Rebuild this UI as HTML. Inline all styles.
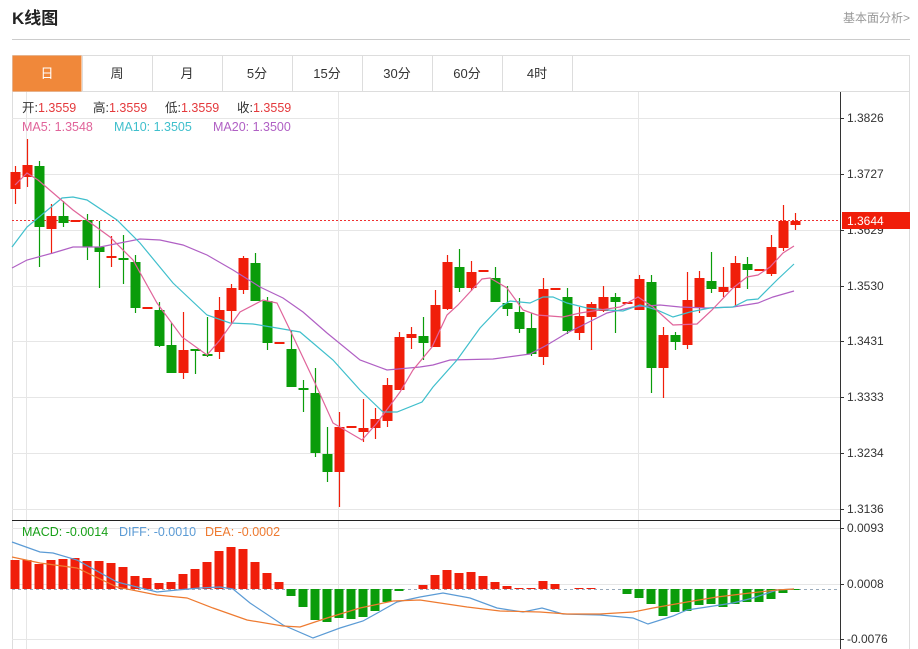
<!DOCTYPE html>
<html><head><meta charset="utf-8"><style>
body{margin:0;background:#fff;width:918px;height:649px;overflow:hidden;font-family:"Liberation Sans","Noto Sans CJK SC",sans-serif;}
svg{position:absolute;left:0;top:0}
</style></head><body>
<svg id="s" width="918" height="649" xmlns="http://www.w3.org/2000/svg" font-family="Liberation Sans, Noto Sans CJK SC, sans-serif">
<text x="12" y="24" font-size="17" font-weight="bold" fill="#222">K线图</text>
<text x="910" y="22" font-size="12" fill="#999" text-anchor="end">基本面分析&gt;</text>
<line x1="12" y1="39.5" x2="910" y2="39.5" stroke="#ccc"/>
<rect x="12.5" y="55.5" width="897" height="600" fill="none" stroke="#ddd"/>
<line x1="12" y1="91.5" x2="910" y2="91.5" stroke="#ddd"/>
<rect x="12.5" y="55.5" width="69" height="36" fill="#f0883a"/>
<g font-size="13" fill="#333" text-anchor="middle">
<text x="47" y="78" fill="#fff">日</text>
<text x="117" y="78">周</text><text x="187" y="78">月</text><text x="257" y="78">5分</text><text x="327" y="78">15分</text><text x="397" y="78">30分</text><text x="467" y="78">60分</text><text x="537" y="78">4时</text>
</g>
<g stroke="#ddd"><line x1="82.5" y1="55" x2="82.5" y2="91"/><line x1="152.5" y1="55" x2="152.5" y2="91"/><line x1="222.5" y1="55" x2="222.5" y2="91"/><line x1="292.5" y1="55" x2="292.5" y2="91"/><line x1="362.5" y1="55" x2="362.5" y2="91"/><line x1="432.5" y1="55" x2="432.5" y2="91"/><line x1="502.5" y1="55" x2="502.5" y2="91"/><line x1="572.5" y1="55" x2="572.5" y2="91"/></g>
<g id="grid" stroke="#e6e6e6"></g>
<g id="chart"></g>
<line x1="840.5" y1="92" x2="840.5" y2="649" stroke="#333"/>
<line x1="12" y1="520.5" x2="840" y2="520.5" stroke="#222"/>
<g id="axis" font-size="12" fill="#333"></g>
<rect x="842" y="212" width="68" height="17" fill="#f01e0a"/>
<text x="847" y="225" font-size="12" fill="#fff">1.3644</text>
<g font-size="12.5">
<text x="22" y="112" fill="#333">开:<tspan fill="#e4393c">1.3559</tspan></text>
<text x="93" y="112" fill="#333">高:<tspan fill="#e4393c">1.3559</tspan></text>
<text x="165" y="112" fill="#333">低:<tspan fill="#e4393c">1.3559</tspan></text>
<text x="237" y="112" fill="#333">收:<tspan fill="#e4393c">1.3559</tspan></text>
<text x="22" y="131" fill="#e0649a">MA5: 1.3548</text>
<text x="114" y="131" fill="#3fbfcc">MA10: 1.3505</text>
<text x="213" y="131" fill="#b060c4">MA20: 1.3500</text>
<text x="22" y="536" fill="#18a018">MACD: -0.0014</text>
<text x="119" y="536" fill="#5b9bd5">DIFF: -0.0010</text>
<text x="205" y="536" fill="#ee7a30">DEA: -0.0002</text>
</g>
</svg>
<script>
var NS="http://www.w3.org/2000/svg",S=function(id){return document.getElementById(id)};
function el(p,t,a){var e=document.createElementNS(NS,t);for(var k in a)e.setAttribute(k,a[k]);p.appendChild(e);return e;}
var g=S('grid'),ax=S('axis'),c=S('chart');
var levels=[[118,"1.3826"],[174,"1.3727"],[230,"1.3629"],[286,"1.3530"],[341,"1.3431"],[397,"1.3333"],[453,"1.3234"],[509,"1.3136"]];
levels.forEach(function(l){el(g,'line',{x1:12,y1:l[0]+.5,x2:840,y2:l[0]+.5});el(ax,'line',{x1:840,y1:l[0]+.5,x2:844,y2:l[0]+.5,stroke:'#333'});var t=el(ax,'text',{x:847,y:l[0]+4});t.textContent=l[1];});
[[528,"0.0093"],[584,"0.0008"],[639,"-0.0076"]].forEach(function(l){el(g,'line',{x1:12,y1:l[0]+.5,x2:840,y2:l[0]+.5});el(ax,'line',{x1:840,y1:l[0]+.5,x2:844,y2:l[0]+.5,stroke:'#333'});var t=el(ax,'text',{x:847,y:l[0]+4});t.textContent=l[1];});
[26,338,638].forEach(function(x){el(g,'line',{x1:x+.5,y1:92,x2:x+.5,y2:649});});
el(c,'line',{x1:12,y1:220.5,x2:840,y2:220.5,stroke:'#f03030','stroke-dasharray':'2,2'});
el(c,'line',{x1:12,y1:589.5,x2:840,y2:589.5,stroke:'#9ab','stroke-dasharray':'3,3'});
var K=[[172,189,166,204,'r'],[165,177,139,187,'r'],[166,227,161,267,'g'],[216,229,204,254,'r'],[216,223,201,227,'g'],[220,222,220,222,'r'],[220,247,214,260,'g'],[247,252,221,288,'g'],[256,258,236,267,'r'],[258,260,235,284,'g'],[262,308,255,313,'g'],[307,309,307,309,'r'],[310,346,302,347,'g'],[345,373,323,373,'g'],[350,373,312,379,'r'],[349,351,349,374,'g'],[354,356,317,357,'g'],[310,352,297,359,'r'],[288,311,284,324,'r'],[258,290,256,294,'r'],[263,301,253,301,'g'],[301,343,297,350,'g'],[342,344,342,344,'r'],[349,387,330,387,'g'],[388,390,380,412,'g'],[393,453,368,457,'g'],[454,472,427,482,'g'],[427,472,412,507,'r'],[426,428,426,428,'r'],[428,432,399,442,'r'],[419,428,408,439,'r'],[385,421,378,427,'r'],[337,390,332,390,'r'],[334,338,327,349,'r'],[336,343,317,360,'g'],[305,347,290,347,'r'],[262,309,255,310,'r'],[267,288,249,292,'g'],[272,288,261,291,'r'],[270,272,270,272,'r'],[278,302,267,302,'g'],[303,309,286,316,'g'],[312,329,298,333,'g'],[328,354,313,356,'g'],[289,357,278,365,'r'],[288,290,288,290,'r'],[297,331,288,334,'g'],[316,333,307,340,'r'],[304,317,302,350,'r'],[297,311,286,312,'r'],[297,302,293,333,'g'],[302,304,302,304,'r'],[279,310,275,310,'r'],[282,368,275,393,'g'],[335,368,327,398,'r'],[335,342,332,350,'g'],[300,345,272,349,'r'],[278,308,271,313,'r'],[281,289,252,293,'g'],[287,292,267,297,'r'],[263,288,256,307,'r'],[264,270,257,289,'g'],[269,271,269,271,'r'],[247,274,235,276,'r'],[221,248,205,251,'r'],[221,225,213,230,'r']];
var R='#f01e0a',G='#0a9c0a';
K.forEach(function(k,i){var x=15+12*i,col=k[4]=='r'?R:G;
 el(c,'line',{x1:x+.5,y1:k[2],x2:x+.5,y2:k[3],stroke:col,'stroke-width':1.2});
 var h=Math.max(2,k[1]-k[0]);el(c,'rect',{x:x-4.5,y:k[0],width:10,height:h,fill:col});});
function pl(pts,col){el(c,'polyline',{points:pts,fill:'none',stroke:col,'stroke-width':1.2});}
pl("12,268 27,260 53,253 73,247 100,247 120,243 140,239 160,240 183,245 207,255 233,270 260,287 283,298 303,312 327,333 360,360 387,370 420,367 433,365 450,360 493,359 530,354 547,345 567,333 587,323 607,313 633,307 660,305 680,307 707,308 733,307 758,303 773,297 794,291","#b060c4");
pl("12,247 27,227 62,198 73,197 87,200 117,220 140,243 173,283 207,315 230,323 253,324 277,328 300,332 333,360 360,390 383,412 397,412 422,402 433,387 457,360 480,328 500,307 510,301 530,303 543,297 553,297 567,303 587,308 607,310 623,311 640,305 657,310 673,317 690,312 710,308 733,307 747,300 758,299 777,280 794,264","#3fbfcc");
pl("15,185 27,173 38,180 73,210 110,237 133,260 157,303 182,337 207,355 220,340 240,312 263,300 277,303 290,330 315,383 333,423 362,440 377,423 400,392 413,370 432,347 447,315 458,305 482,279 490,278 507,288 523,310 537,315 563,317 580,313 600,310 620,307 638,297 653,307 673,325 697,324 712,310 733,288 747,277 758,275 770,267 783,253 794,246","#e0649a");
var M=[560,560,564,560,559,558,561,561,563,567,576,578,583,582,574,569,562,551,547,549,562,573,582,596,607,620,622,618,619,617,611,602,591,589,585,575,570,573,572,576,582,586,588,588,581,584,589,588,588,589,589,594,598,604,616,612,611,605,604,607,604,602,602,599,593,590];
M.forEach(function(v,i){var x=15+12*i;if(Math.abs(v-589)<1)return;
 if(v<589)el(c,'rect',{x:x-4.5,y:v,width:9,height:589-v,fill:R});else el(c,'rect',{x:x-4.5,y:589,width:9,height:v-589,fill:G});});
pl("12,542 40,552 53,553 77,560 117,582 157,592 177,590 200,588 220,587 233,589 250,603 283,625 313,638 340,628 363,621 397,602 420,597 443,593 470,598 497,608 523,612 542,608 563,614 600,615 633,618 648,624 673,616 687,610 707,607 733,603 753,598 777,590 794,589","#5b9bd5");
pl("12,557 40,563 77,568 117,587 157,595 187,598 213,608 247,620 283,626 300,627 327,618 360,608 393,601 420,600 467,607 500,611 540,612 567,614 600,614 633,612 653,608 687,602 717,597 750,593 777,590 794,589","#ee7a30");
</script>
</body></html>
